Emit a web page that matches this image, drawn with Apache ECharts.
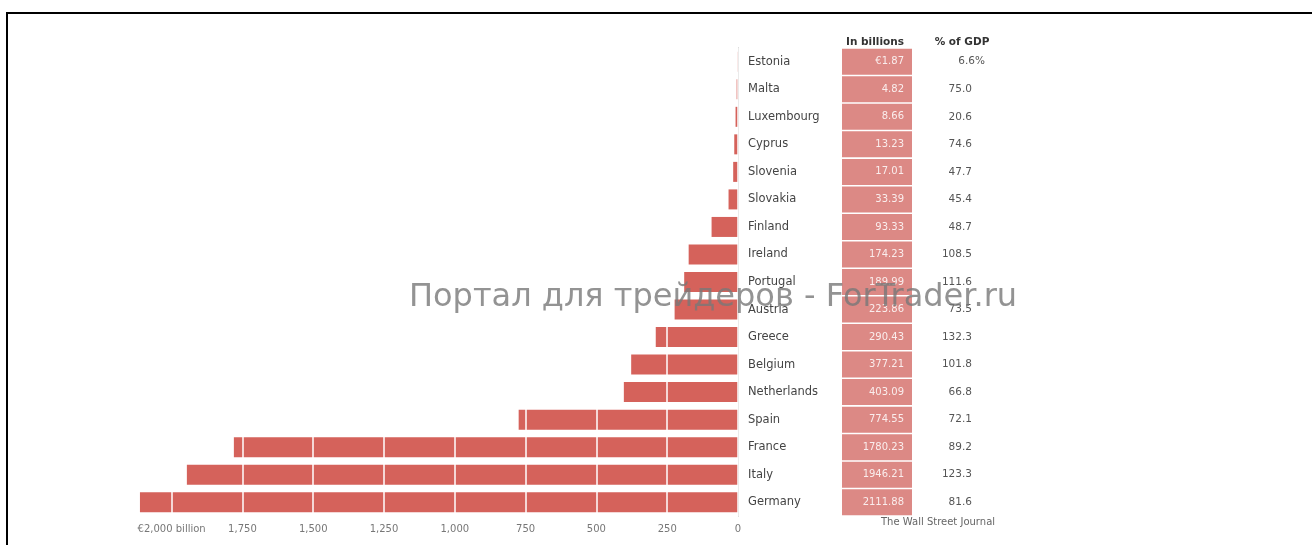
<!DOCTYPE html>
<html>
<head>
<meta charset="utf-8">
<script src="https://cdn.jsdelivr.net/npm/echarts@6/dist/echarts.min.js"></script>
<style>
html,body{margin:0;padding:0;background:#fff;}
#chart{width:1312px;height:545px;}
</style>
</head>
<body>
<div id="chart"></div>
<script>
const countries = ['Estonia','Malta','Luxembourg','Cyprus','Slovenia','Slovakia','Finland','Ireland','Portugal','Austria','Greece','Belgium','Netherlands','Spain','France','Italy','Germany'];
const billions = [1.87, 4.82, 8.66, 13.23, 17.01, 33.39, 93.33, 174.23, 189.99, 223.86, 290.43, 377.21, 403.09, 774.55, 1780.23, 1946.21, 2111.88];
const billionLabels = ['€1.87','4.82','8.66','13.23','17.01','33.39','93.33','174.23','189.99','223.86','290.43','377.21','403.09','774.55','1780.23','1946.21','2111.88'];
const gdpPct = ['6.6%','75.0','20.6','74.6','47.7','45.4','48.7','108.5','111.6','73.5','132.3','101.8','66.8','72.1','89.2','123.3','81.6'];
const tickValues = [0, 250, 500, 750, 1000, 1250, 1500, 1750, 2000];
const tickLabels = ['0','250','500','750','1,000','1,250','1,500','1,750','€2,000 billion'];
const headerBillions = 'In billions';
const headerGdp = '% of GDP';
const sourceText = 'The Wall Street Journal';
const watermark = 'Портал для трейдеров - ForTrader.ru';

const FONT = 'DejaVu Sans';
const chart = echarts.init(document.getElementById('chart'), null, {renderer:'canvas'});

chart.setOption({
  backgroundColor: '#ffffff',
  animation: false,
  grid: {left: 115, right: 574, top: 48, bottom: 29, containLabel: false},
  xAxis: {
    type: 'value', inverse: true, min: 0, max: 2200, interval: 250, z: 5,
    axisLine: {show: false}, axisTick: {show: false},
    splitLine: {show: true, lineStyle: {color: '#ffffff', width: 1.5}},
    axisLabel: {
      margin: 8, color: '#777', fontSize: 10, fontFamily: FONT, showMaxLabel: false,
      formatter: function (v) { const i = tickValues.indexOf(v); return i >= 0 ? tickLabels[i] : ''; }
    }
  },
  yAxis: {
    type: 'category', data: countries, inverse: true, position: 'right',
    axisLine: {show: true, lineStyle: {color: '#aaaaaa', width: 1}},
    axisTick: {show: false},
    splitLine: {show: false},
    axisLabel: {
      margin: 10, align: 'left', interval: 0,
      formatter: function (v, i) {
        const pct = gdpPct[i].indexOf('%') >= 0 ? '{q|' + gdpPct[i] + '}' : '{p|' + gdpPct[i] + '}';
        return '{n|' + v + '}{v|' + billionLabels[i] + '}' + pct;
      },
      rich: {
        n: {width: 94, fontSize: 11.5, color: '#444', fontFamily: FONT, align: 'left'},
        v: {width: 62, height: 26, padding: [0, 8, 0, 0], backgroundColor: '#dc8985', color: 'rgba(255,255,255,0.85)', fontSize: 10, fontFamily: FONT, align: 'right'},
        p: {width: 60, fontSize: 10.5, color: '#555', fontFamily: FONT, align: 'right'},
        q: {width: 73, fontSize: 10.5, color: '#555', fontFamily: FONT, align: 'right'}
      }
    }
  },
  series: [{
    type: 'bar', data: billions, barWidth: 20,
    itemStyle: {color: '#d5625b'}
  }],
  graphic: [
    {type: 'rect', left: 6, top: 12, shape: {width: 1306, height: 2}, style: {fill: '#000'}},
    {type: 'rect', left: 6, top: 12, shape: {width: 2, height: 533}, style: {fill: '#000'}},
    {type: 'text', x: 875, y: 42, style: {text: headerBillions, font: 'bold 10.5px ' + FONT, fill: '#333', align: 'center', verticalAlign: 'middle'}},
    {type: 'text', x: 962, y: 42, style: {text: headerGdp, font: 'bold 10.5px ' + FONT, fill: '#333', align: 'center', verticalAlign: 'middle'}},
    {type: 'text', x: 881, y: 522, style: {text: sourceText, font: '10px ' + FONT, fill: '#666', align: 'left', verticalAlign: 'middle'}},
    {type: 'text', x: 713, y: 298, z: 100, style: {text: watermark, font: '32px ' + FONT, fill: 'rgba(120,120,120,0.8)', align: 'center', verticalAlign: 'middle'}}
  ]
});
</script>
</body>
</html>
